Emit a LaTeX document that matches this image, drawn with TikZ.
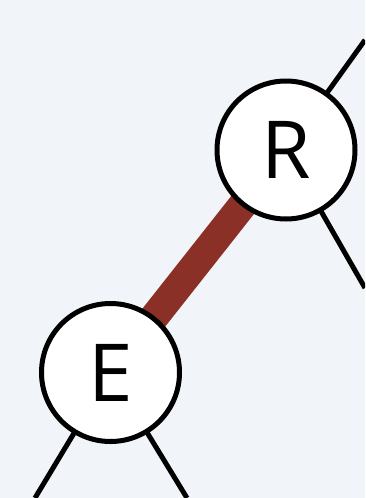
\documentclass[tikz,border=0pt]{standalone}
\usepackage{fontspec}
\setmainfont{Open Sans}
\usetikzlibrary{backgrounds}
\definecolor{canvas}{HTML}{F1F5F9}
\definecolor{pathred}{HTML}{8B3026}
\begin{document}
\begin{tikzpicture}[x=1pt,y=-1pt,
  treenode/.style={circle,draw=black,line width=5pt,fill=white,
    minimum size=138pt,inner sep=0pt,font=\fontsize{80}{80}\selectfont},
  branch/.style={draw=black,line width=5pt},
  hot/.style={draw=pathred,line width=29pt}]
  % tree nodes
  \node[treenode] (R) at (286,150) {R};
  \node[treenode] (E) at (110.5,372.5) {E};
  % free ends of the branches leaving the frame
  \coordinate (rup) at (365,40);
  \coordinate (rdown) at (365,288);
  \coordinate (eleft) at (35,498);
  \coordinate (eright) at (187,498);
  \begin{pgfonlayer}{background}
    \fill[canvas] (0,0) rectangle (365,498);
    \clip (0,0) rectangle (365,498);
    \draw[branch] (R.center) -- (rup);
    \draw[branch] (R.center) -- (rdown);
    \draw[branch] (E.center) -- (eleft);
    \draw[branch] (E.center) -- (eright);
    \draw[hot] (E.center) -- (R.center);
  \end{pgfonlayer}
  \useasboundingbox (0,0) rectangle (365,498);
\end{tikzpicture}
\end{document}
